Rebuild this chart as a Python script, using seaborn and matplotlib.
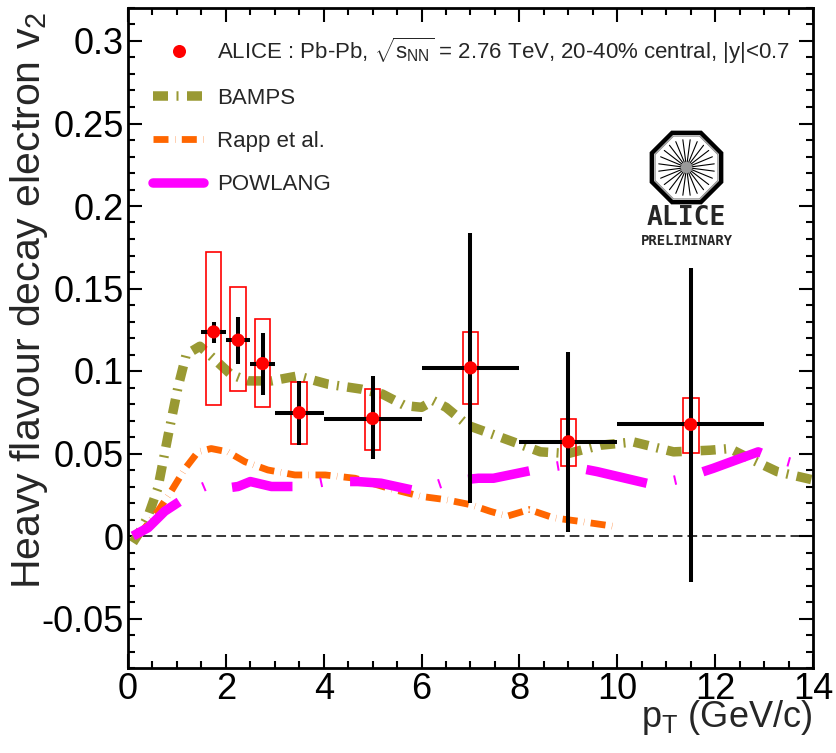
import numpy as np
import pandas as pd
import matplotlib
matplotlib.use("Agg")
import matplotlib.pyplot as plt
from matplotlib.patches import Rectangle, RegularPolygon, Circle
from matplotlib.lines import Line2D
from matplotlib.ticker import MultipleLocator, FixedLocator, FuncFormatter
import seaborn as sns

# ---------------- data ----------------
pt = [1.75, 2.25, 2.75, 3.5, 5.0, 7.0, 9.0, 11.5]
v2 = [0.1237, 0.1187, 0.1045, 0.0747, 0.0712, 0.1019, 0.0571, 0.0676]
pt_lo = [1.5, 2.0, 2.5, 3.0, 4.0, 6.0, 8.0, 10.0]
pt_hi = [2.0, 2.5, 3.0, 4.0, 6.0, 8.0, 10.0, 13.0]
stat_hi = [0.1296, 0.1326, 0.1232, 0.0938, 0.0969, 0.1838, 0.1116, 0.1625]
stat_lo = [0.1171, 0.1044, 0.0853, 0.0550, 0.0464, 0.0201, 0.0023, -0.0280]
syst_hi = [0.1720, 0.1510, 0.1316, 0.0935, 0.0892, 0.1235, 0.0712, 0.0837]
syst_lo = [0.0793, 0.0878, 0.0781, 0.0559, 0.0520, 0.0801, 0.0427, 0.0504]

bamps_pt = [0.10, 0.25, 0.41, 0.61, 0.82, 1.02, 1.19, 1.47, 1.77, 2.10, 2.45, 2.93,
            3.47, 4.09, 4.77, 5.20, 5.66, 6.00, 6.24, 6.50, 6.95, 7.60, 8.43, 9.00,
            9.65, 10.33, 11.15, 11.90, 12.30, 12.70, 13.27, 14.00]
bamps_v2 = [-0.004, 0.003, 0.012, 0.029, 0.061, 0.090, 0.110, 0.115, 0.107, 0.098, 0.094, 0.094,
            0.097, 0.092, 0.089, 0.086, 0.079, 0.078, 0.082, 0.078, 0.067, 0.060, 0.051, 0.050,
            0.055, 0.057, 0.051, 0.052, 0.053, 0.047, 0.039, 0.034]

rapp_pt = [0.20, 0.40, 0.61, 0.88, 1.17, 1.43, 1.70, 2.04, 2.39, 2.86, 3.41, 4.03,
           4.64, 5.32, 5.99, 6.50, 7.00, 7.40, 7.75, 8.20, 8.70, 9.20, 9.90]
rapp_v2 = [0.000, 0.007, 0.015, 0.027, 0.041, 0.051, 0.053, 0.051, 0.045, 0.040, 0.037, 0.037,
           0.035, 0.029, 0.024, 0.022, 0.019, 0.015, 0.012, 0.016, 0.011, 0.009, 0.006]

powlang_pt = [0.10, 0.41, 0.75, 1.06, 1.40, 1.64, 2.00, 2.25, 2.50, 2.93, 3.37, 3.70,
              4.03, 4.70, 5.17, 5.79, 6.20, 6.50, 7.16, 7.47, 8.29, 8.90, 9.59, 10.74,
              11.35, 11.96, 12.88, 13.13, 13.74, 13.95]
powlang_v2 = [0.000, 0.005, 0.015, 0.021, 0.028, 0.031, 0.029, 0.030, 0.033, 0.030, 0.030, 0.031,
              0.033, 0.033, 0.032, 0.028, 0.030, 0.033, 0.035, 0.035, 0.040, 0.043, 0.039, 0.031,
              0.035, 0.041, 0.051, 0.048, 0.043, 0.041]

x_ticks = [0, 2, 4, 6, 8, 10, 12, 14]
y_ticks = [-0.05, 0, 0.05, 0.1, 0.15, 0.2, 0.25, 0.3]

legend_labels = [r"ALICE : Pb-Pb, $\sqrt{\mathrm{s}_{\mathrm{NN}}}$ = 2.76 TeV, 20-40% central, |y|<0.7",
                 "BAMPS", "Rapp et al.", "POWLANG"]

# ---------------- style ----------------
sns.set_style("ticks")
plt.rcParams['font.family'] = ['Liberation Sans', 'DejaVu Sans']
plt.rcParams['mathtext.fontset'] = 'custom'
plt.rcParams['mathtext.rm'] = 'Liberation Sans'
plt.rcParams['mathtext.it'] = 'Liberation Sans:italic'
plt.rcParams['mathtext.bf'] = 'Liberation Sans:bold'
plt.rcParams['axes.unicode_minus'] = False
plt.rcParams['lines.scale_dashes'] = False

C_BAMPS = '#999933'
C_RAPP = '#ff6600'
C_POW = '#ff00ff'

P = 0.72  # points per pixel at dpi 100
ls_bamps = (0, (15 * P, 8.5 * P, 2 * P, 8.5 * P))
ls_rapp = (0, (15 * P, 6.5 * P, 0.3 * P, 6.5 * P))
ls_pow = (4 * P, (62 * P, 28 * P, 2 * P, 28 * P))
lw_bamps, lw_rapp, lw_pow = 9.5 * P, 6.8 * P, 9.5 * P

fig = plt.figure(figsize=(8.37, 7.53), dpi=100)
ax = fig.add_axes([128 / 837, 1 - 668 / 753, 685 / 837, 660 / 753])

# theory curves
sns.lineplot(data=pd.DataFrame({"pt": bamps_pt, "v2": bamps_v2}), x="pt", y="v2", ax=ax,
             color=C_BAMPS, lw=lw_bamps, linestyle=ls_bamps, sort=False, estimator=None, zorder=2)
sns.lineplot(data=pd.DataFrame({"pt": rapp_pt, "v2": rapp_v2}), x="pt", y="v2", ax=ax,
             color=C_RAPP, lw=lw_rapp, linestyle=ls_rapp, sort=False, estimator=None, zorder=2)
sns.lineplot(data=pd.DataFrame({"pt": powlang_pt, "v2": powlang_v2}), x="pt", y="v2", ax=ax,
             color=C_POW, lw=lw_pow, linestyle=ls_pow, sort=False, estimator=None, zorder=2)

# zero line
ax.axhline(0, color='black', lw=1.1, linestyle=(0, (7, 3.6)), zorder=1)

# systematic boxes
for x, lo, hi in zip(pt, syst_lo, syst_hi):
    ax.add_patch(Rectangle((x - 0.16, lo), 0.32, hi - lo, fill=False, ec='red', lw=1.2, zorder=3))

# stat errors
xerr = [np.array(pt) - np.array(pt_lo), np.array(pt_hi) - np.array(pt)]
yerr = [np.array(v2) - np.array(stat_lo), np.array(stat_hi) - np.array(v2)]
ax.errorbar(pt, v2, xerr=xerr, yerr=yerr, fmt='none', ecolor='black', elinewidth=2.9,
            capsize=0, zorder=4)
sns.scatterplot(x=pt, y=v2, ax=ax, color='red', s=90, edgecolor='none', zorder=5, legend=False)

# axes
ax.set_xlim(0, 14)
ax.set_ylim(-0.08, 0.32)
ax.xaxis.set_major_locator(FixedLocator(x_ticks))
ax.xaxis.set_minor_locator(MultipleLocator(0.5))
ax.yaxis.set_major_locator(FixedLocator(y_ticks))
ax.yaxis.set_minor_locator(MultipleLocator(0.01))
ax.yaxis.set_major_formatter(FuncFormatter(lambda v, p: "%g" % round(v, 3)))
ax.xaxis.set_major_formatter(FuncFormatter(lambda v, p: "%g" % v))
ax.tick_params(which='both', direction='in', top=True, right=True, width=1.5,
               labelsize=26, colors='black')
ax.tick_params(which='major', length=10, pad=3)
ax.tick_params(which='minor', length=5)
for s in ax.spines.values():
    s.set_linewidth(2.0)
    s.set_color('black')
ax.grid(False)

ax.set_ylabel(r"Heavy flavour decay electron v$_2$", fontsize=29.5)
ax.yaxis.set_label_coords(50 / 837, 1 - 300 / 753, transform=fig.transFigure)
ax.set_xlabel(r"p$_{\mathrm{T}}$ (GeV/c)", fontsize=26)
ax.xaxis.set_label_coords(812 / 837, 1 - 727 / 753, transform=fig.transFigure)
ax.xaxis.label.set_ha('right')
ax.xaxis.label.set_va('baseline')

# legend
handles = [
    Line2D([], [], marker='o', ls='none', color='red', markersize=9.4, mec='none'),
    Line2D([], [], color=C_BAMPS, lw=lw_bamps, linestyle=ls_bamps),
    Line2D([], [], color=C_RAPP, lw=lw_rapp, linestyle=ls_rapp),
    Line2D([], [], color=C_POW, lw=lw_pow, linestyle='-'),
]
ax.legend(handles, legend_labels, loc='upper left', bbox_to_anchor=(153 / 837, 1 - 35 / 753),
          bbox_transform=fig.transFigure, frameon=False, fontsize=16, handlelength=2.3,
          handletextpad=0.6, borderpad=0, borderaxespad=0, labelspacing=1.0)

# ALICE logo
lax = fig.add_axes([630 / 837, 1 - 252 / 753, 115 / 837, 130 / 753])
lax.set_xlim(630, 745)
lax.set_ylim(252, 122)
lax.axis('off')
cx, cy = 686.5, 167.5
lax.add_patch(RegularPolygon((cx, cy), numVertices=8, radius=37.5, orientation=np.pi / 8,
                             fill=True, fc='white', ec='black', lw=3.2))
lax.add_patch(RegularPolygon((cx, cy), numVertices=8, radius=34.0, orientation=np.pi / 8,
                             fill=False, ec='#888888', lw=0.8))
for a in np.arange(0, 360, 15):
    r = np.deg2rad(a + 7.5)
    lax.plot([cx + 5 * np.cos(r), cx + 28 * np.cos(r)], [cy + 5 * np.sin(r), cy + 28 * np.sin(r)],
             color='black', lw=0.8)
lax.add_patch(Circle((cx, cy), 5, color='#999999', zorder=3))
lax.text(686.5, 218, "ALICE", ha='center', va='center', fontsize=19, fontweight='bold',
         family='DejaVu Sans Mono')
lax.text(686.5, 241, "PRELIMINARY", ha='center', va='center', fontsize=10, fontweight='bold',
         family='DejaVu Sans Mono')

fig.savefig("out.png", dpi=100)
